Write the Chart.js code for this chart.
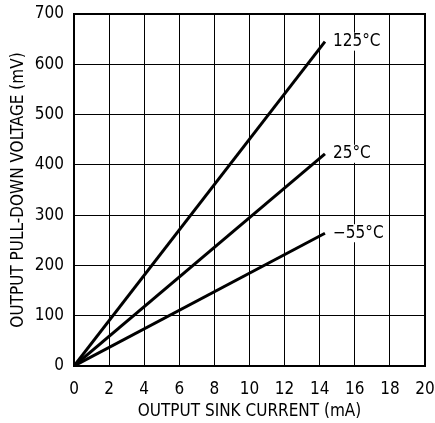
<!DOCTYPE html>
<html>
<head>
<meta charset="utf-8">
<script src="https://cdn.jsdelivr.net/npm/chart.js@4/dist/chart.umd.min.js"></script>
<style>
  html, body { margin: 0; padding: 0; background: #fff; }
  #wrap { width: 435px; height: 423px; }
</style>
</head>
<body>
<div id="wrap"><canvas id="chart"></canvas></div>
<script>
const FONT = "'Liberation Sans Narrow', 'DejaVu Sans Condensed', sans-serif";

// sink current (mA) at the two ends of each curve
const currentMA = [0, 14.3];
// pull-down voltage (mV) for each temperature
const volt125 = [0, 645];
const volt25 = [0, 422];
const voltM55 = [0, 264];
const curveLabels = ['125°C', '25°C', '\u221255°C'];

const xTicks = [0, 2, 4, 6, 8, 10, 12, 14, 16, 18, 20];
const yTicks = [0, 100, 200, 300, 400, 500, 600, 700];

function toPoints(ys) {
  return currentMA.map((x, i) => ({ x: x, y: ys[i] }));
}

const series = [volt125, volt25, voltM55];

// writes the temperature next to the end of each line, and boxes the plot
const curveLabelPlugin = {
  id: 'curveLabels',
  afterDatasetsDraw(chart) {
    const ctx = chart.ctx;
    const xs = chart.scales.x;
    const ys = chart.scales.y;
    const a = chart.chartArea;
    ctx.save();
    ctx.strokeStyle = '#000';
    ctx.lineWidth = 2;
    ctx.strokeRect(a.left, a.top, a.right - a.left, a.bottom - a.top);
    ctx.font = '17px ' + FONT;
    ctx.textBaseline = 'middle';
    ctx.textAlign = 'left';
    series.forEach((s, i) => {
      const last = s.length - 1;
      const px = xs.getPixelForValue(currentMA[last]) + 8;
      const py = ys.getPixelForValue(s[last]);
      const w = ctx.measureText(curveLabels[i]).width;
      ctx.fillStyle = '#fff';
      ctx.fillRect(px - 1, py - 9, w + 2, 18);
      ctx.fillStyle = '#000';
      ctx.fillText(curveLabels[i], px, py);
    });
    ctx.restore();
  }
};

new Chart(document.getElementById('chart'), {
  type: 'scatter',
  data: {
    datasets: series.map((s, i) => ({
      label: curveLabels[i],
      data: toPoints(s),
      showLine: true,
      borderColor: '#000',
      borderWidth: 3,
      pointRadius: 0,
      fill: false,
    })),
  },
  plugins: [curveLabelPlugin],
  options: {
    responsive: true,
    maintainAspectRatio: false,
    animation: false,
    layout: { padding: { top: 14, right: 10, left: 0, bottom: 0 } },
    plugins: {
      legend: { display: false },
      tooltip: { enabled: false },
    },
    scales: {
      x: {
        type: 'linear',
        min: 0,
        max: 20,
        afterBuildTicks: (axis) => { axis.ticks = xTicks.map(v => ({ value: v })); },
        afterFit: (axis) => {
          axis.height = 57;
          axis.paddingLeft = 0;
          axis.paddingRight = 0;
        },
        grid: { color: '#000', lineWidth: 1, drawTicks: false },
        border: { color: '#000', width: 2 },
        ticks: {
          color: '#000',
          padding: 13,
          maxRotation: 0,
          font: { family: FONT, size: 17 },
        },
        title: {
          display: true,
          text: 'OUTPUT SINK CURRENT (mA)',
          color: '#000',
          padding: { top: 0, bottom: 1 },
          font: { family: FONT, size: 17 },
        },
      },
      y: {
        type: 'linear',
        min: 0,
        max: 700,
        afterBuildTicks: (axis) => { axis.ticks = yTicks.map(v => ({ value: v })); },
        afterFit: (axis) => {
          axis.width = 74;
          axis.paddingTop = 0;
          axis.paddingBottom = 0;
        },
        grid: { color: '#000', lineWidth: 1, drawTicks: false },
        border: { color: '#000', width: 2 },
        ticks: {
          color: '#000',
          padding: 10,
          font: { family: FONT, size: 17 },
        },
        title: {
          display: true,
          text: 'OUTPUT PULL-DOWN VOLTAGE (mV)',
          color: '#000',
          padding: { top: 8, bottom: 0 },
          font: { family: FONT, size: 17 },
        },
      },
    },
  },
});
</script>
</body>
</html>
